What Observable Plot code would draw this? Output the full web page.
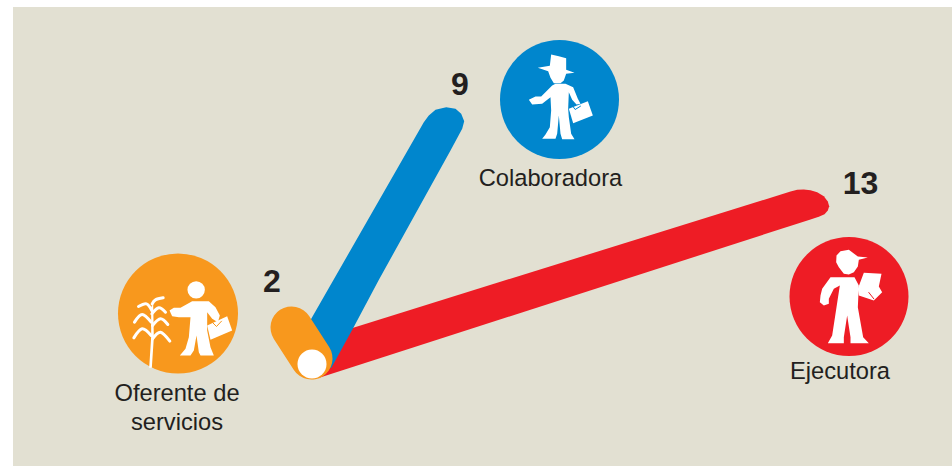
<!DOCTYPE html>
<html><head><meta charset="utf-8">
<style>html,body{margin:0;padding:0;background:#fff}svg{display:block}</style>
<script src="https://cdn.jsdelivr.net/npm/d3@7"></script>
<script src="https://cdn.jsdelivr.net/npm/@observablehq/plot@0.6"></script>
</head><body>
<script>
const FONT = "Liberation Sans, Arial, sans-serif";
const categories = ["Colaboradora", "Ejecutora", "Oferente de\nservicios"];
const values = ["9", "13", "2"];
const colors = ["#0086cd", "#ee1c25", "#f8981d"];

// Spoke outlines (chart units = picture pixels)
const redSpokeX = [320, 790, 796.7, 803.3, 810, 816.7, 823.3, 827.3, 828.7, 827.3, 824, 818.3, 810, 318];
const redSpokeY = [337.4, 191, 189.3, 189, 189.7, 191.7, 195.7, 201, 205.7, 210, 213.7, 216.3, 219, 377.5];
const blueSpokeX = [300, 423.3, 428.3, 435, 445.7, 455, 460.7, 463.7, 461.7, 450, 378, 353, 331, 312];
const blueSpokeY = [337, 121.7, 115, 109.3, 106.7, 108.3, 113.3, 120.7, 128.3, 150, 280, 327, 367, 375];
const orangeSpoke = [{x1: 291, y1: 327, x2: 311, y2: 358, w: 42, c: colors[2]}];

// Badges
const badgeX = [559, 848.5, 177.5];
const badgeY = [99, 296, 313];
const badgeR = [59.5, 59.5, 60];
const badges = [0, 1, 2].map(i => ({x: badgeX[i], y: badgeY[i], r: badgeR[i], c: colors[i]}));

// Labels
const labelX = [550, 839.5, 176.5];
const labelY = [176.5, 369, 406];
const valueX = [459.5, 860, 271.5];
const valueY = [84.5, 183.5, 281.5];

// Icon silhouettes, in 3x local units from each icon's origin
const blueO = [500, 40], redO = [780, 160], orangeO = [110, 250];
const blueShapes = [
  [[112,82],[148,76],[152,42],[175,47],[197,53],[197,88],[222,97],[197,100],[190,120],[180,128],[160,128],[150,112],[143,92]],
  [[85,178],[105,168],[122,168],[155,135],[165,130],[195,130],[218,140],[232,175],[240,190],[228,192],[215,178],[205,155],[203,205],[205,230],[212,280],[222,296],[185,296],[180,280],[175,225],[170,280],[165,295],[125,295],[135,282],[148,260],[152,210],[150,170],[125,190],[95,192]],
  [[205,205],[262,182],[277,225],[218,248]]
];
const blueHandle = [[216,196],[224,207],[240,197]];
const redShapes = [
  [[168,285],[180,272],[205,268],[232,288],[262,291],[235,298],[232,318],[220,335],[205,342],[190,340],[175,320],[167,305]],
  [[150,350],[222,350],[235,375],[232,440],[248,530],[265,548],[210,548],[210,530],[200,465],[190,530],[190,548],[142,548],[155,525],[168,440],[178,375],[160,385],[145,415],[145,430],[130,435],[118,425],[120,405],[125,385]],
  [[250,337],[303,340],[295,378],[305,395],[280,420],[235,405],[232,385]]
];
const redCrease = [[265,396],[280,415]];
const orangeShapes = [
  [[177,180],[190,172],[210,172],[245,152],[295,152],[315,170],[328,195],[322,215],[305,205],[290,185],[290,240],[300,290],[310,315],[270,315],[265,305],[258,255],[250,300],[240,315],[208,315],[225,295],[235,260],[240,200],[205,200],[185,197]],
  [[290,225],[350,197],[365,240],[300,268]],
  [[116,352],[122,260],[122,170],[128,160],[130,260],[124,352]]
];
const orangeHandle = [[308,218],[318,228],[333,212]];
const orangeHead = [[257, 118, 8.7]];
const leaves = [
  [[124,180],[108,160],[84,168]],
  [[125,160],[135,148],[158,142]],
  [[124,190],[145,172],[165,185]],
  [[122,215],[95,192],[72,215]],
  [[126,225],[150,205],[172,222]],
  [[122,255],[95,235],[70,262]],
  [[126,265],[150,245],[178,272]]
];

const flat = (shapes, o) => shapes.flatMap((s, k) => s.map(p => ({x: o[0] + p[0] / 3, y: o[1] + p[1] / 3, k})));
const poly = (shapes, o) => Plot.line(flat(shapes, o), {x: "x", y: "y", z: "k", fill: "white", stroke: "none", curve: "linear-closed"});
const wire = (pts, o, c) => Plot.line(flat([pts], o), {x: "x", y: "y", z: "k", stroke: c, strokeWidth: 1, fill: "none"});
const outline = (xs, ys, c) => Plot.line(xs, {x: d => d, y: (d, i) => ys[i], fill: c, stroke: "none", curve: "linear-closed"});

const frame = [{x1: 13, x2: 952, y1: 7, y2: 466}];

document.body.append(Plot.plot({
  width: 952, height: 466,
  margin: 0,
  style: {background: "#fff"},
  x: {domain: [0, 952], range: [0, 952], axis: null},
  y: {domain: [0, 466], range: [0, 466], axis: null},
  r: {type: "identity"},
  color: {type: "identity"},
  marks: [
    Plot.rect(frame, {x1: "x1", x2: "x2", y1: "y1", y2: "y2", fill: "#e2e0d2"}),
    outline(redSpokeX, redSpokeY, colors[1]),
    outline(blueSpokeX, blueSpokeY, colors[0]),
    Plot.link(orangeSpoke, {x1: "x1", y1: "y1", x2: "x2", y2: "y2", stroke: "c", strokeWidth: "w", strokeLinecap: "round", strokeOpacity: 1}),
    Plot.dot([{x: 311.5, y: 363.5, r: 14.5}], {x: "x", y: "y", r: "r", fill: "white", stroke: "none"}),
    Plot.dot(badges, {x: "x", y: "y", r: "r", fill: "c", stroke: "none"}),
    poly(blueShapes, blueO),
    wire(blueHandle, blueO, colors[0]),
    poly(redShapes, redO),
    wire(redCrease, redO, colors[1]),
    poly(orangeShapes, orangeO),
    wire(orangeHandle, orangeO, colors[2]),
    Plot.dot(orangeHead, {x: d => orangeO[0] + d[0] / 3, y: d => orangeO[1] + d[1] / 3, r: d => d[2], fill: "white", stroke: "none"}),
    Plot.line(leaves.flatMap((l, k) => l.map(p => ({x: orangeO[0] + p[0] / 3, y: orangeO[1] + p[1] / 3, k}))),
      {x: "x", y: "y", z: "k", stroke: "white", strokeWidth: 3, curve: "natural", strokeLinecap: "round"}),
    Plot.text(categories, {x: (d, i) => labelX[i], y: (d, i) => labelY[i], text: d => d, fontFamily: FONT, fontSize: 23.7, fill: "#231f20", lineHeight: 1.224, textAnchor: "middle", lineAnchor: "middle"}),
    Plot.text(values, {x: (d, i) => valueX[i], y: (d, i) => valueY[i], text: d => d, fontFamily: FONT, fontSize: 32, fontWeight: "bold", fill: "#231f20", textAnchor: "middle", lineAnchor: "middle"})
  ]
}));
</script>
</body></html>
